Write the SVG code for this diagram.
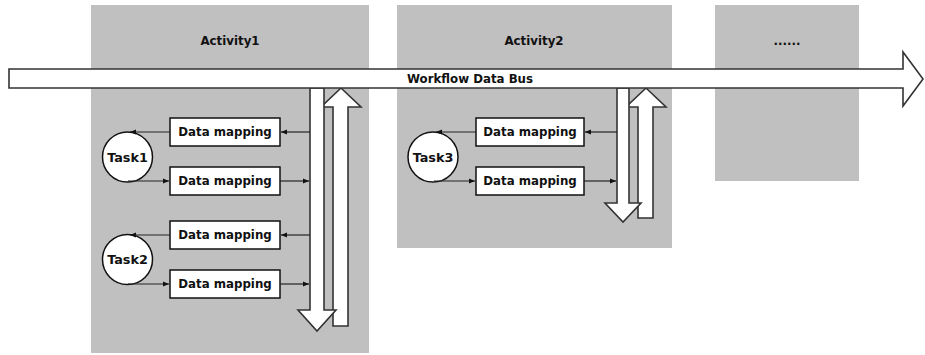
<svg xmlns="http://www.w3.org/2000/svg" width="925" height="355" viewBox="0 0 925 355">
  <defs>
    <marker id="ah" markerUnits="userSpaceOnUse" markerWidth="7" markerHeight="6" refX="6" refY="3" orient="auto">
      <path d="M0,0.5 L6,3 L0,5.5 z" fill="#111"/>
    </marker>
    <style>
      .act { fill: #c0c0c0; stroke: none; }
      .lbl { font-family: "DejaVu Sans", Verdana, sans-serif; font-weight: bold; font-size: 11.8px; fill: #111; text-anchor: middle; }
      .task { font-size: 12.8px; }
      .box { fill: #fff; stroke: #111; stroke-width: 1.5; }
      .blk { fill: #fff; stroke: #333; stroke-width: 1.6; stroke-linejoin: miter; }
      .con { fill: none; stroke: #222; stroke-width: 1.2; marker-end: url(#ah); }
    </style>
  </defs>

  <g id="activity1">
    <rect class="act" x="91" y="5" width="278" height="348"/>
    <text class="lbl" x="230" y="45">Activity1</text>
  </g>
  <g id="activity2">
    <rect class="act" x="397" y="5" width="275" height="243"/>
    <text class="lbl" x="534" y="45">Activity2</text>
  </g>
  <g id="activity3">
    <rect class="act" x="715" y="5" width="144" height="176"/>
    <text class="lbl" x="787" y="45">......</text>
  </g>

  <g id="bus-links">
    <polygon class="blk" points="333,326 348,326 348,107 361,107 341,88 321,107 333,107"/>
    <polygon class="blk" points="310,88 324,88 324,310 336,310 317,331 298,310 310,310"/>
    <polygon class="blk" points="638,218 653,218 653,107 666,107 646,88 626,107 638,107"/>
    <polygon class="blk" points="617,88 629,88 629,203 641,203 623,222 605,203 617,203"/>
  </g>

  <g id="bus">
    <polygon class="blk" points="9,69 903,69 903,52 923,79 903,106 903,88 9,88"/>
    <text class="lbl" x="470" y="82.5">Workflow Data Bus</text>
  </g>

  <g id="task1">
    <circle class="box" cx="127.5" cy="157" r="25"/>
    <text class="lbl task" x="127.5" y="161.5">Task1</text>
  </g>
  <g id="task2">
    <circle class="box" cx="127.5" cy="259.5" r="25"/>
    <text class="lbl task" x="127.5" y="264">Task2</text>
  </g>
  <g id="task3">
    <circle class="box" cx="433" cy="157" r="25"/>
    <text class="lbl task" x="433" y="161.5">Task3</text>
  </g>

  <g id="dm1">
    <rect class="box" x="170" y="118" width="110" height="28"/>
    <text class="lbl" x="225" y="136">Data mapping</text>
  </g>
  <g id="dm2">
    <rect class="box" x="170" y="167" width="110" height="28"/>
    <text class="lbl" x="225" y="185">Data mapping</text>
  </g>
  <g id="dm3">
    <rect class="box" x="170" y="221" width="110" height="28"/>
    <text class="lbl" x="225" y="239">Data mapping</text>
  </g>
  <g id="dm4">
    <rect class="box" x="170" y="270" width="110" height="28"/>
    <text class="lbl" x="225" y="288">Data mapping</text>
  </g>
  <g id="dm5">
    <rect class="box" x="476" y="118" width="108" height="28"/>
    <text class="lbl" x="530" y="136">Data mapping</text>
  </g>
  <g id="dm6">
    <rect class="box" x="476" y="167" width="108" height="28"/>
    <text class="lbl" x="530" y="185">Data mapping</text>
  </g>

  <g id="connectors">
    <path class="con" d="M310,132 H281"/>
    <path class="con" d="M170,132 H130"/>
    <path class="con" d="M128,181 H169"/>
    <path class="con" d="M280,181 H309"/>
    <path class="con" d="M310,235 H281"/>
    <path class="con" d="M170,235 H130"/>
    <path class="con" d="M128,284 H169"/>
    <path class="con" d="M280,284 H309"/>
    <path class="con" d="M617,132 H585"/>
    <path class="con" d="M476,132 H436"/>
    <path class="con" d="M434,181 H475"/>
    <path class="con" d="M584,181 H616"/>
  </g>
</svg>
